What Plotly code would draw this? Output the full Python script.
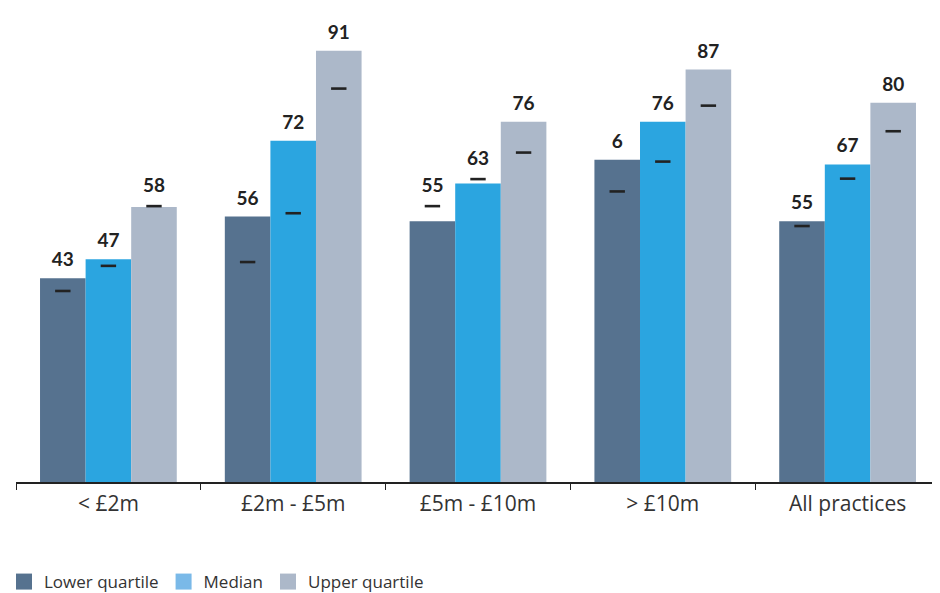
import plotly.graph_objects as go

categories = ["< £2m", "£2m - £5m", "£5m - £10m", "> £10m", "All practices"]
series_names = ["Lower quartile", "Median", "Upper quartile"]

lower_values = [43, 56, 55, 68, 55]
median_values = [47, 72, 63, 76, 67]
upper_values = [58, 91, 76, 87, 80]

lower_labels = ["43", "56", "55", "6", "55"]
median_labels = ["47", "72", "63", "76", "67"]
upper_labels = ["58", "91", "76", "87", "80"]

# dash markers (comparison values)
lower_marks = [40.3, 46.4, 58.2, 61.3, 54.0]
median_marks = [45.6, 56.7, 63.9, 67.6, 64.0]
upper_marks = [58.2, 83.0, 69.5, 79.4, 74.0]

bar_colors = ["#56728f", "#2ba5e0", "#acb8c9"]
legend_colors = ["#56728f", "#7ab9e8", "#acb8c9"]

values = [lower_values, median_values, upper_values]
labels = [lower_labels, median_labels, upper_labels]
marks = [lower_marks, median_marks, upper_marks]

FONT = "Lato, 'Open Sans', sans-serif"
FONT2 = "'Open Sans', Lato, sans-serif"
TXT = "#222222"
TXT2 = "#333333"

fig = go.Figure()
for k in range(3):
    g = str(k)
    fig.add_trace(go.Bar(
        x=categories, y=values[k], name=series_names[k],
        marker=dict(color=bar_colors[k], line=dict(width=0)),
        offsetgroup=g, showlegend=False, hoverinfo="skip",
    ))
for k in range(3):
    g = str(k)
    label_y = [max(v, m + 0.5) for v, m in zip(values[k], marks[k])]
    fig.add_trace(go.Scatter(
        x=categories, y=label_y, mode="markers+text", text=labels[k],
        textposition="top center",
        textfont=dict(family=FONT, size=19, color=TXT, weight="bold"),
        offsetgroup=g, showlegend=False, hoverinfo="skip",
        marker=dict(size=10, opacity=0),
    ))
    fig.add_trace(go.Scatter(
        x=categories, y=marks[k], mode="markers",
        marker=dict(symbol="line-ew", size=11, line=dict(width=2.6, color=TXT), color=TXT),
        offsetgroup=g, showlegend=False, hoverinfo="skip",
    ))
    fig.add_trace(go.Scatter(
        x=[None], y=[None], mode="markers", name=series_names[k],
        marker=dict(symbol="square", size=18, color=legend_colors[k]),
        offsetgroup=g, showlegend=True,
    ))

# page body adds an 8px offset; margins compensate
fig.update_layout(
    width=940, height=593,
    margin=dict(l=8, r=8, t=0, b=119, autoexpand=False),
    plot_bgcolor="white", paper_bgcolor="white",
    barmode="group", bargap=0.26, bargroupgap=0,
    scattermode="group", scattergap=0.26,
    font=dict(family=FONT, color=TXT),
    legend=dict(orientation="h", xref="paper", yref="container",
                x=-0.013, xanchor="left", y=0.032, yanchor="middle",
                font=dict(size=17, color=TXT2, family=FONT2), itemsizing="trace",
                traceorder="normal", itemwidth=30),
    showlegend=True,
)
fig.update_xaxes(
    type="category", range=[-0.5, 4.5], autorange=False,
    showline=True, linecolor=TXT, linewidth=1.5,
    ticks="outside", ticklen=6, tickcolor=TXT, tickwidth=1.2, tickson="boundaries",
    ticklabelstandoff=2,
    tickfont=dict(size=21, color=TXT2, family=FONT2), showgrid=False, zeroline=False,
)
fig.update_yaxes(range=[0, 100], visible=False, showgrid=False, zeroline=False)

fig.write_html("out.html")
